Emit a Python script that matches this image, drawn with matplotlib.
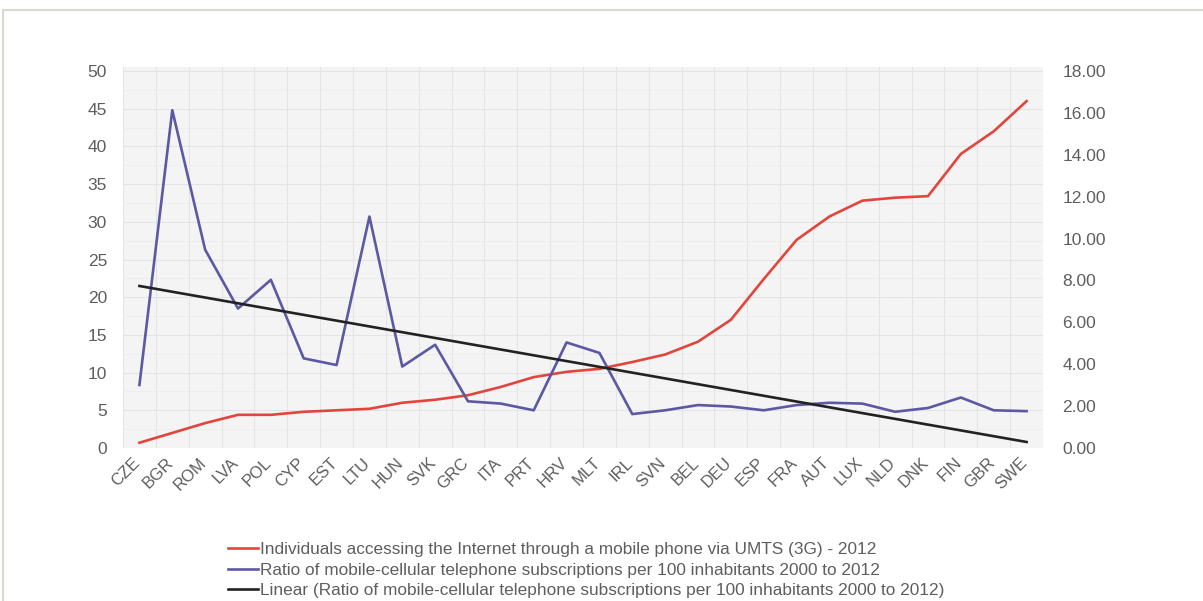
import numpy as np
import matplotlib.pyplot as plt
import matplotlib.transforms as mtrans
from matplotlib.lines import Line2D
from matplotlib.ticker import MultipleLocator, FormatStrFormatter

plt.rcParams['font.family'] = ['Liberation Sans', 'DejaVu Sans']

countries = ['CZE', 'BGR', 'ROM', 'LVA', 'POL', 'CYP', 'EST', 'LTU', 'HUN', 'SVK',
             'GRC', 'ITA', 'PRT', 'HRV', 'MLT', 'IRL', 'SVN', 'BEL', 'DEU', 'ESP',
             'FRA', 'AUT', 'LUX', 'NLD', 'DNK', 'FIN', 'GBR', 'SWE']

# % of individuals using 3G internet on a mobile phone (left axis)
umts_2012 = [0.7, 2.0, 3.3, 4.4, 4.4, 4.8, 5.0, 5.2, 6.0, 6.4,
             7.0, 8.1, 9.4, 10.1, 10.5, 11.4, 12.4, 14.1, 17.0, 22.4,
             27.6, 30.7, 32.8, 33.2, 33.4, 39.0, 42.0, 46.0]

# subscriptions ratio 2012 / 2000 (right axis)
ratio_subs = [3.01, 16.13, 9.47, 6.66, 8.03, 4.28, 3.96, 11.05, 3.89, 4.93,
              2.23, 2.12, 1.80, 5.04, 4.54, 1.62, 1.80, 2.05, 1.98, 1.80,
              2.05, 2.16, 2.12, 1.73, 1.91, 2.41, 1.80, 1.76]

lab_red = 'Individuals accessing the Internet through a mobile phone via UMTS (3G) - 2012'
lab_blue = 'Ratio of mobile-cellular telephone subscriptions per 100 inhabitants 2000 to 2012'
lab_black = 'Linear (Ratio of mobile-cellular telephone subscriptions per 100 inhabitants 2000 to 2012)'

x = np.arange(len(countries))
# linear trend of the ratio series
k, b = np.polyfit(x, ratio_subs, 1)
trend = k * x + b

txt = '#5e5e5e'
red = '#e2453c'
blue = '#5c58a3'
black = '#222222'

fig = plt.figure(figsize=(12.03, 6.01), dpi=100)
ax = fig.add_axes([123 / 1203, 1 - 448 / 601, 920 / 1203, 381 / 601])
ax2 = ax.twinx()

ax.set_facecolor('#f4f4f4')
ax.set_xlim(-0.5, len(countries) - 0.5)
top = 50 * 381 / 377
ax.set_ylim(0, top)
ax2.set_ylim(0, top * 18 / 50)

ax.set_yticks(np.arange(0, 51, 5))
ax2.set_yticks(np.arange(0, 19, 2))
ax2.yaxis.set_major_formatter(FormatStrFormatter('%.2f'))

# grid: horizontal at major ticks, vertical at category boundaries
ax.set_xticks(x)
ax.set_xticks(x - 0.5, minor=True)
ax.yaxis.set_minor_locator(MultipleLocator(2.5))
ax.grid(True, which='minor', axis='x', color='#e4e4e4', lw=0.8)
ax.grid(True, which='major', axis='y', color='#e4e4e4', lw=0.8)
ax.grid(True, which='minor', axis='y', color='#ececec', lw=0.6)
ax.set_axisbelow(True)

ax.plot(x, umts_2012, color=red, lw=1.9, solid_joinstyle='round', zorder=3)
ax2.plot(x, ratio_subs, color=blue, lw=1.9, solid_joinstyle='round', zorder=3)
ax2.plot(x, trend, color=black, lw=1.9, zorder=4)

for a in (ax, ax2):
    for s in a.spines.values():
        s.set_visible(False)
    a.tick_params(which='both', length=0, colors=txt, labelsize=12.5)

ax.tick_params(axis='y', pad=11.5)
ax2.tick_params(axis='y', pad=14)
ax.set_xticklabels(countries, rotation=45, ha='right', va='top',
                   rotation_mode='anchor', fontsize=12)
ax.tick_params(axis='x', pad=5)
shift = mtrans.ScaledTranslation(-7 / 100, 0, fig.dpi_scale_trans)
for t in ax.get_xticklabels():
    t.set_transform(t.get_transform() + shift)

handles = [Line2D([], [], color=red, lw=1.9),
           Line2D([], [], color=blue, lw=1.9),
           Line2D([], [], color=black, lw=1.9)]
fig.legend(handles, [lab_red, lab_blue, lab_black], loc='upper left',
           bbox_to_anchor=(228 / 1203, 1 - 542 / 601), frameon=False,
           fontsize=12.4, labelcolor=txt, handlelength=1.75, handletextpad=0.1,
           labelspacing=0.32, borderaxespad=0, borderpad=0)

# frame of the screenshot
fig.add_artist(Line2D([3 / 1203, 1], [1 - 10 / 601, 1 - 10 / 601], color='#d9d9d2', lw=1.5))
fig.add_artist(Line2D([3 / 1203, 3 / 1203], [0, 1 - 10 / 601], color='#d9d9d2', lw=1.5))

fig.savefig('out.png', dpi=100)
